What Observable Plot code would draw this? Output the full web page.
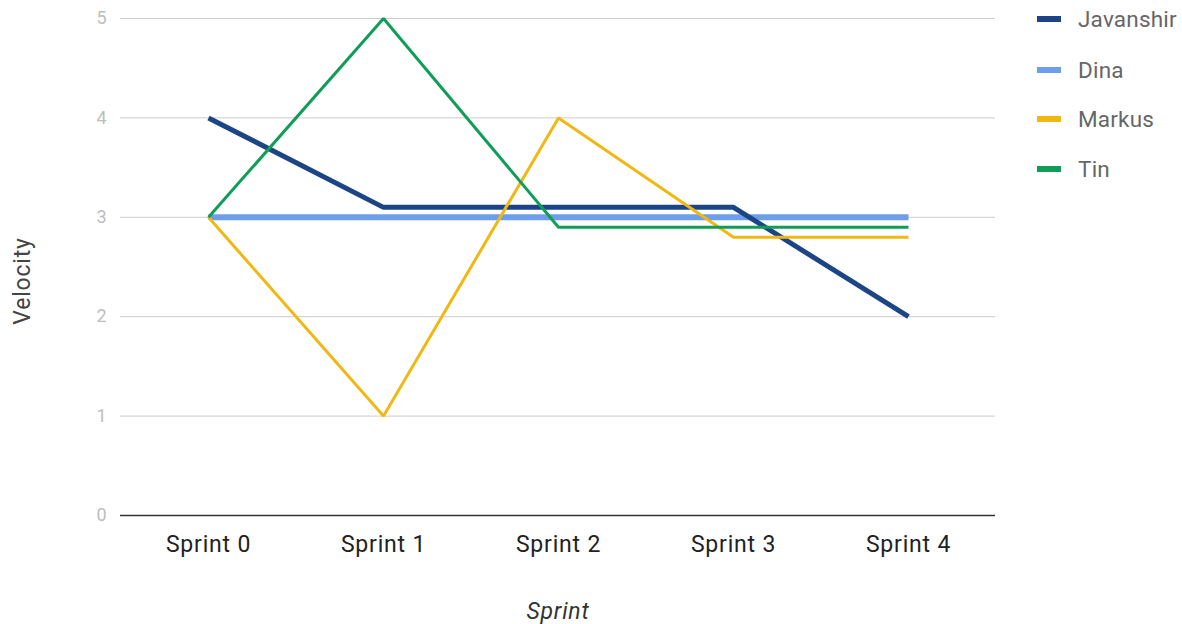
<!DOCTYPE html>
<html>
<head>
<meta charset="utf-8">
<script src="https://cdn.jsdelivr.net/npm/d3@7"></script>
<script src="https://cdn.jsdelivr.net/npm/@observablehq/plot@0.6"></script>
<style>
  html, body { margin: 0; padding: 0; background: #fff; }
  #wrap { position: relative; width: 1182px; height: 624px; font-family: Roboto, sans-serif; }
  #legend { position: absolute; left: 1037px; top: 0; }
  .item { position: absolute; left: 0; height: 26px; display: flex; align-items: center; white-space: nowrap; }
  .sw { width: 24px; height: 6px; margin-right: 17px; }
  .lab { font-size: 22.5px; color: #666; letter-spacing: 0.2px; }
</style>
</head>
<body>
<div id="wrap"><div id="legend"></div></div>
<script>
const sprints = ["Sprint 0", "Sprint 1", "Sprint 2", "Sprint 3", "Sprint 4"];
const seriesNames = ["Javanshir", "Dina", "Markus", "Tin"];
const javanshir = [4, 3.1, 3.1, 3.1, 2];
const dina = [3, 3, 3, 3, 3];
const markus = [3, 1, 4, 2.8, 2.8];
const tin = [3, 5, 2.9, 2.9, 2.9];
const colors = ["#1c4587", "#6d9eeb", "#f1b814", "#0f9d58"];
const widths = [5, 6, 3, 3];
const yTicks = [0, 1, 2, 3, 4, 5];

const values = [javanshir, dina, markus, tin];
const rows = [];
seriesNames.forEach((s, k) => values[k].forEach((v, i) => rows.push({series: s, sprint: sprints[i], value: v})));
const drawOrder = ["Dina", "Javanshir", "Markus", "Tin"];

const lineMarks = drawOrder.map(s => {
  const k = seriesNames.indexOf(s);
  return Plot.line(rows.filter(r => r.series === s), {
    x: "sprint", y: "value", stroke: colors[k], strokeWidth: widths[k],
    strokeLinejoin: "miter", strokeLinecap: "butt"
  });
});

const chart = Plot.plot({
  width: 1182,
  height: 624,
  marginLeft: 120,
  marginRight: 187,
  marginTop: 18,
  marginBottom: 109,
  style: {fontFamily: "Roboto, sans-serif", background: "#fff", letterSpacing: "0.8px"},
  x: {type: "point", domain: sprints, padding: 0.5},
  y: {domain: [0, 5], ticks: yTicks},
  marks: [
    Plot.gridY(yTicks.filter(t => t > 0), {stroke: "#cccccc", strokeOpacity: 1, strokeWidth: 1}),
    Plot.ruleY([0], {stroke: "#333", strokeWidth: 1.5}),
    Plot.axisY(yTicks, {tickSize: 0, tickPadding: 13, fontSize: 18, fill: "#bdbdbd", label: null, tickFormat: d => String(d)}),
    Plot.axisX({tickSize: 0, tickPadding: 20, fontSize: 23, fill: "#222", label: null}),
    ...lineMarks,
    Plot.text(["Velocity"], {frameAnchor: "left", textAnchor: "middle", dx: -98, dy: 14, rotate: -90, fontSize: 23, fill: "#444"}),
    Plot.text(["Sprint"], {frameAnchor: "bottom", dy: 103, fontSize: 23, fill: "#333", fontStyle: "italic"})
  ]
});
document.getElementById("wrap").prepend(chart);

const legend = document.getElementById("legend");
const tops = [6, 57, 106, 156];
seriesNames.forEach((s, k) => {
  const it = document.createElement("div");
  it.className = "item";
  it.style.top = tops[k] + "px";
  it.innerHTML = `<div class="sw" style="background:${colors[k]}"></div><span class="lab">${s}</span>`;
  legend.appendChild(it);
});
</script>
</body>
</html>
